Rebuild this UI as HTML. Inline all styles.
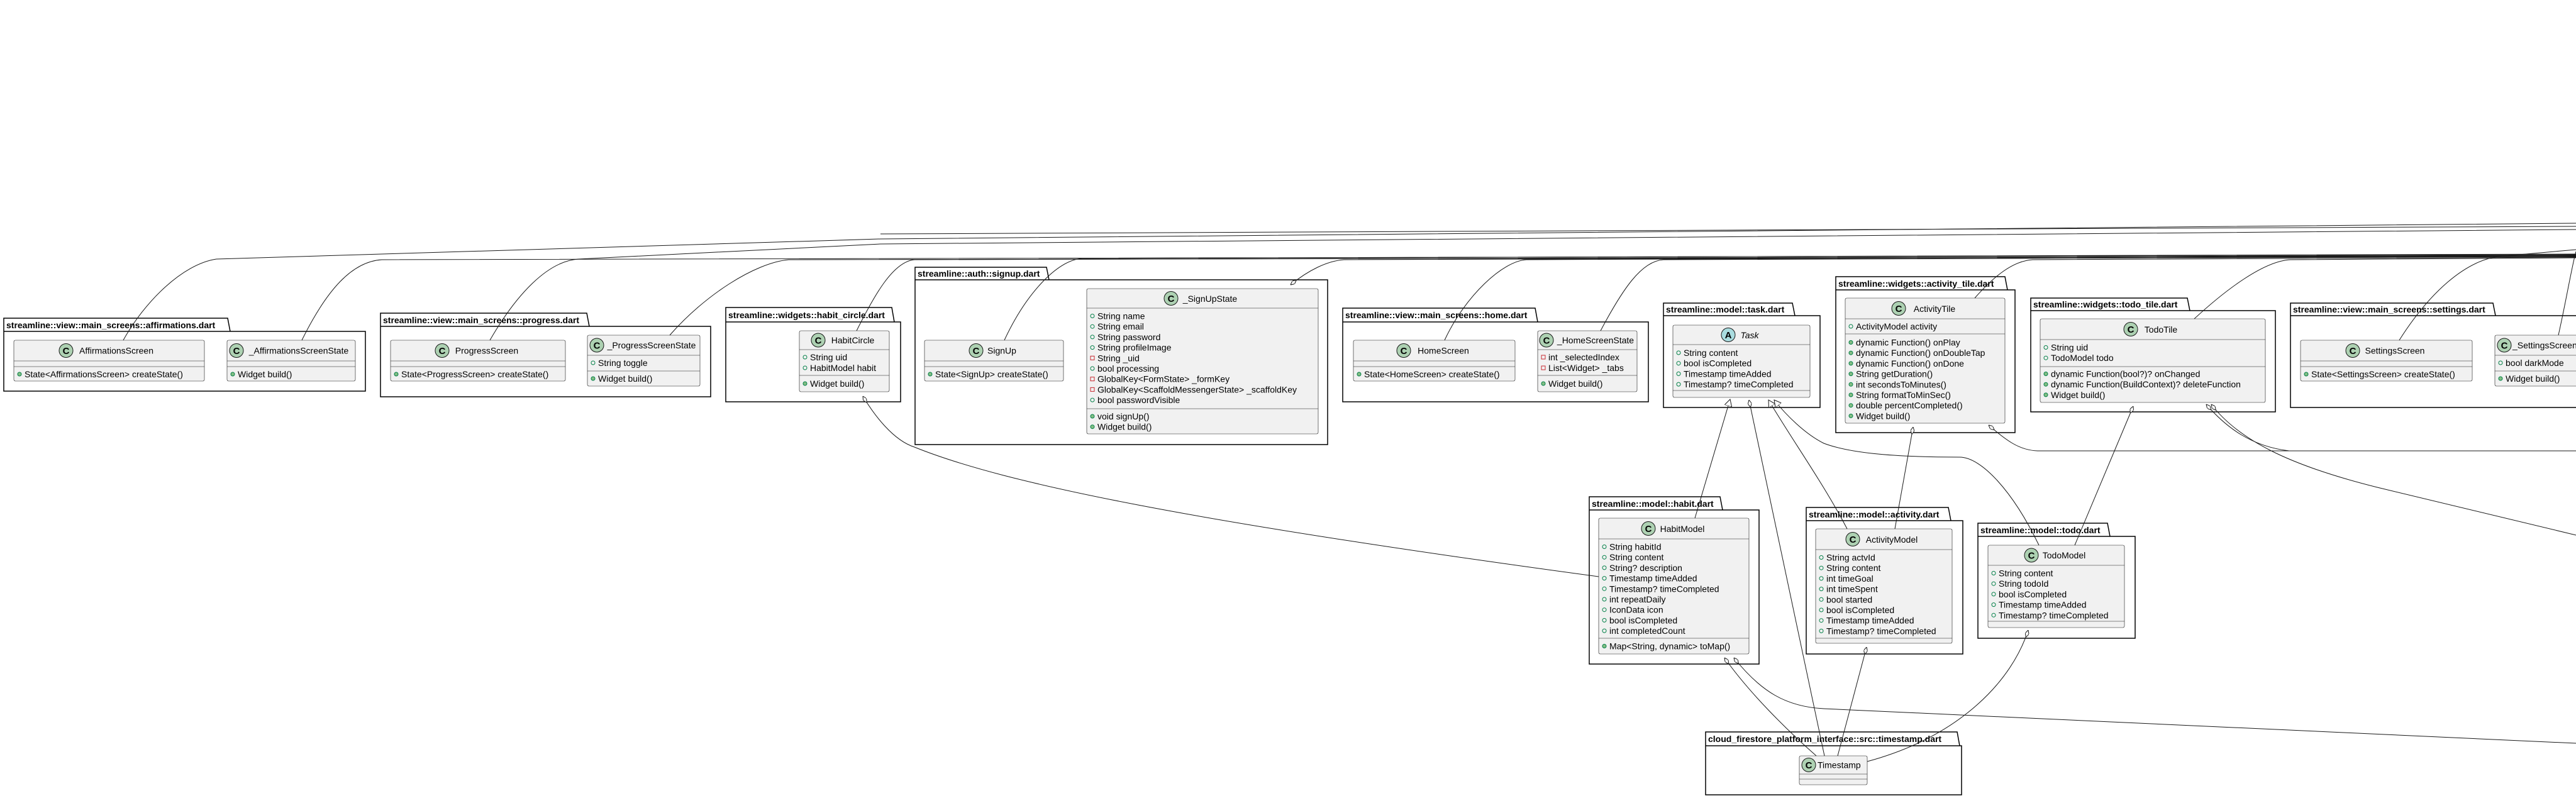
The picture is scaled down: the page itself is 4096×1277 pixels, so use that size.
<!DOCTYPE html>
<html><head><meta charset="utf-8"><style>
html,body{margin:0;padding:0;background:#fff;}
svg{display:block;}
text{font-family:"Liberation Sans",sans-serif;font-size:14px;fill:#000;}
.pk{font-weight:bold;font-size:14px;}
.cl{fill:#F1F1F1;stroke:#181818;stroke-width:0.6;}
.dv{stroke:#181818;stroke-width:0.6;}
.pb{fill:none;stroke:#000;stroke-width:1.5;}
.e{fill:none;stroke:#181818;stroke-width:1;}
.ic{fill:#ADD1B2;stroke:#181818;stroke-width:1;}
.ia{fill:#A9DCDF;stroke:#181818;stroke-width:1;}
.il{font-weight:bold;font-size:15px;}
.fo{fill:none;stroke:#038048;stroke-width:1;}
.mf{fill:#84BE84;stroke:#038048;stroke-width:1;}
.pr{fill:none;stroke:#C82930;stroke-width:1;}
</style></head><body>
<svg width="4096" height="1277" viewBox="0 0 4096 1277" xmlns="http://www.w3.org/2000/svg">
<defs>
<marker id="dm" viewBox="0 0 12 6" refX="0" refY="3" markerWidth="12" markerHeight="6" markerUnits="userSpaceOnUse" orient="auto"><polygon points="0,3 6,0 12,3 6,6" fill="#fff" stroke="#181818" stroke-width="1"/></marker>
<marker id="tr" viewBox="0 0 12 12" refX="11" refY="6" markerWidth="12" markerHeight="12" markerUnits="userSpaceOnUse" orient="auto"><polygon points="0,0 11,6 0,12" fill="#fff" stroke="#181818" stroke-width="1"/></marker>
</defs>

<!-- PACKAGES -->
<g>
<path class="pb" d="M6,527 L6,506 L362,506 L366,527 M6,527 H581 V622 H6 Z"/><text class="pk" x="10" y="522">streamline::view::main_screens::affirmations.dart</text>
<path class="pb" d="M605,519 L605,498 L933,498 L937,519 M605,519 H1130 V631 H605 Z"/><text class="pk" x="609" y="514">streamline::view::main_screens::progress.dart</text>
<path class="pb" d="M1154,512 L1154,489 L1418,489 L1422,512 M1154,512 H1432 V639 H1154 Z"/><text class="pk" x="1158" y="506">streamline::widgets::habit_circle.dart</text>
<path class="pb" d="M1455,445 L1455,425 L1664,425 L1668,445 M1455,445 H2111 V707 H1455 Z"/><text class="pk" x="1459" y="440">streamline::auth::signup.dart</text>
<path class="pb" d="M2135,512 L2135,490 L2441,490 L2445,512 M2135,512 H2621 V639 H2135 Z"/><text class="pk" x="2139" y="506">streamline::view::main_screens::home.dart</text>
<path class="pb" d="M2645,502 L2645,482 L2850,482 L2854,502 M2645,502 H2894 V648 H2645 Z"/><text class="pk" x="2649" y="497">streamline::model::task.dart</text>
<path class="pb" d="M2919,461 L2919,440 L3188,440 L3192,461 M2919,461 H3204 V688 H2919 Z"/><text class="pk" x="2923" y="456">streamline::widgets::activity_tile.dart</text>
<path class="pb" d="M3229,494 L3229,474 L3478,474 L3482,494 M3229,494 H3618 V655 H3229 Z"/><text class="pk" x="3233" y="489">streamline::widgets::todo_tile.dart</text>
<path class="pb" d="M3642,502 L3642,482 L3964,482 L3968,502 M3642,502 H4200 V648 H3642 Z"/><text class="pk" x="3646" y="497">streamline::view::main_screens::settings.dart</text>
<path class="pb" d="M2527,811 L2527,790 L2735,790 L2739,811 M2527,811 H2797 V1056 H2527 Z"/><text class="pk" x="2531" y="806">streamline::model::habit.dart</text>
<path class="pb" d="M2872,828 L2872,807 L3098,807 L3102,828 M2872,828 H3121 V1040 H2872 Z"/><text class="pk" x="2876" y="823">streamline::model::activity.dart</text>
<path class="pb" d="M3145,853 L3145,832 L3351,832 L3355,853 M3145,853 H3395 V1015 H3145 Z"/><text class="pk" x="3149" y="848">streamline::model::todo.dart</text>
<path class="pb" d="M2712,1186 L2712,1164 L3112,1164 L3116,1186 M2712,1186 H3119 V1264 H2712 Z"/><text class="pk" x="2716" y="1180">cloud_firestore_platform_interface::src::timestamp.dart</text>
</g>

<!-- CLASSES -->
<!-- AffirmationsScreen -->
<rect class="cl" x="22" y="541" width="303" height="65" rx="2.5"/>
<line class="dv" x1="22" y1="574" x2="325" y2="574"/><line class="dv" x1="22" y1="583" x2="325" y2="583"/>
<circle class="ic" cx="105" cy="557.5" r="11"/><text class="il" x="105" y="563" text-anchor="middle">C</text>
<text x="185" y="562.5" text-anchor="middle">AffirmationsScreen</text>
<circle class="mf" cx="31" cy="595" r="3"/><text x="39" y="600">State&lt;AffirmationsScreen&gt; createState()</text>

<!-- _AffirmationsScreenState -->
<rect class="cl" x="361" y="541" width="204" height="65" rx="2.5"/>
<line class="dv" x1="361" y1="574" x2="565" y2="574"/><line class="dv" x1="361" y1="583" x2="565" y2="583"/>
<circle class="ic" cx="376" cy="557.5" r="11"/><text class="il" x="376" y="563" text-anchor="middle">C</text>
<text x="475" y="562.5" text-anchor="middle">_AffirmationsScreenState</text>
<circle class="mf" cx="370" cy="595" r="3"/><text x="378" y="600">Widget build()</text>

<!-- ProgressScreen -->
<rect class="cl" x="621" y="541" width="278" height="65" rx="2.5"/>
<line class="dv" x1="621" y1="574" x2="899" y2="574"/><line class="dv" x1="621" y1="583" x2="899" y2="583"/>
<circle class="ic" cx="703" cy="557.5" r="11"/><text class="il" x="703" y="563" text-anchor="middle">C</text>
<text x="774" y="562.5" text-anchor="middle">ProgressScreen</text>
<circle class="mf" cx="630" cy="595" r="3"/><text x="638" y="600">State&lt;ProgressScreen&gt; createState()</text>

<!-- _ProgressScreenState -->
<rect class="cl" x="934" y="533" width="179" height="81" rx="2.5"/>
<line class="dv" x1="934" y1="565" x2="1113" y2="565"/><line class="dv" x1="934" y1="590" x2="1113" y2="590"/>
<circle class="ic" cx="949" cy="549" r="11"/><text class="il" x="949" y="554.5" text-anchor="middle">C</text>
<text x="1036" y="554" text-anchor="middle">_ProgressScreenState</text>
<circle class="fo" cx="943" cy="577" r="3"/><text x="951" y="582">String toggle</text>
<circle class="mf" cx="943" cy="602" r="3"/><text x="951" y="607">Widget build()</text>

<!-- HabitCircle -->
<rect class="cl" x="1271" y="526" width="143" height="97" rx="2.5"/>
<line class="dv" x1="1271" y1="556" x2="1414" y2="556"/><line class="dv" x1="1271" y1="597" x2="1414" y2="597"/>
<circle class="ic" cx="1301" cy="541" r="11"/><text class="il" x="1301" y="546.5" text-anchor="middle">C</text>
<text x="1356" y="546" text-anchor="middle">HabitCircle</text>
<circle class="fo" cx="1280" cy="568" r="3"/><text x="1288" y="573">String uid</text>
<circle class="fo" cx="1280" cy="585" r="3"/><text x="1288" y="590">HabitModel habit</text>
<circle class="mf" cx="1280" cy="610" r="3"/><text x="1288" y="615">Widget build()</text>

<!-- SignUp -->
<rect class="cl" x="1470" y="541" width="221" height="65" rx="2.5"/>
<line class="dv" x1="1470" y1="574" x2="1691" y2="574"/><line class="dv" x1="1470" y1="583" x2="1691" y2="583"/>
<circle class="ic" cx="1552" cy="557.5" r="11"/><text class="il" x="1552" y="563" text-anchor="middle">C</text>
<text x="1593" y="562.5" text-anchor="middle">SignUp</text>
<circle class="mf" cx="1479" cy="595" r="3"/><text x="1487" y="600">State&lt;SignUp&gt; createState()</text>

<!-- _SignUpState -->
<rect class="cl" x="1728" y="459" width="368" height="231" rx="2.5"/>
<line class="dv" x1="1728" y1="490" x2="2096" y2="490"/><line class="dv" x1="1728" y1="650" x2="2096" y2="650"/>
<circle class="ic" cx="1862" cy="474.5" r="11"/><text class="il" x="1862" y="480" text-anchor="middle">C</text>
<text x="1924" y="480" text-anchor="middle">_SignUpState</text>
<circle class="fo" cx="1737" cy="502.5" r="3"/><text x="1745" y="507.5">String name</text>
<circle class="fo" cx="1737" cy="519.2" r="3"/><text x="1745" y="524.2">String email</text>
<circle class="fo" cx="1737" cy="535.9" r="3"/><text x="1745" y="540.9">String password</text>
<circle class="fo" cx="1737" cy="552.6" r="3"/><text x="1745" y="557.6">String profileImage</text>
<rect class="pr" x="1734" y="566.3" width="6" height="6"/><text x="1745" y="574.3">String _uid</text>
<circle class="fo" cx="1737" cy="586" r="3"/><text x="1745" y="591">bool processing</text>
<rect class="pr" x="1734" y="599.7" width="6" height="6"/><text x="1745" y="607.7">GlobalKey&lt;FormState&gt; _formKey</text>
<rect class="pr" x="1734" y="616.4" width="6" height="6"/><text x="1745" y="624.4">GlobalKey&lt;ScaffoldMessengerState&gt; _scaffoldKey</text>
<circle class="fo" cx="1737" cy="636.1" r="3"/><text x="1745" y="641.1">bool passwordVisible</text>
<circle class="mf" cx="1737" cy="662" r="3"/><text x="1745" y="667">void signUp()</text>
<circle class="mf" cx="1737" cy="678.7" r="3"/><text x="1745" y="683.7">Widget build()</text>

<!-- HomeScreen -->
<rect class="cl" x="2152" y="541" width="257" height="65" rx="2.5"/>
<line class="dv" x1="2152" y1="574" x2="2409" y2="574"/><line class="dv" x1="2152" y1="583" x2="2409" y2="583"/>
<circle class="ic" cx="2232" cy="557.5" r="11"/><text class="il" x="2232" y="563" text-anchor="middle">C</text>
<text x="2295" y="562.5" text-anchor="middle">HomeScreen</text>
<circle class="mf" cx="2161" cy="595" r="3"/><text x="2169" y="600">State&lt;HomeScreen&gt; createState()</text>

<!-- _HomeScreenState -->
<rect class="cl" x="2445" y="526" width="158" height="97" rx="2.5"/>
<line class="dv" x1="2445" y1="556" x2="2603" y2="556"/><line class="dv" x1="2445" y1="597" x2="2603" y2="597"/>
<circle class="ic" cx="2459" cy="541" r="11"/><text class="il" x="2459" y="546.5" text-anchor="middle">C</text>
<text x="2537" y="546" text-anchor="middle">_HomeScreenState</text>
<rect class="pr" x="2451" y="565" width="6" height="6"/><text x="2462" y="573">int _selectedIndex</text>
<rect class="pr" x="2451" y="582" width="6" height="6"/><text x="2462" y="590">List&lt;Widget&gt; _tabs</text>
<circle class="mf" cx="2454" cy="610" r="3"/><text x="2462" y="615">Widget build()</text>

<!-- Task -->
<rect class="cl" x="2660" y="517" width="218" height="115" rx="2.5"/>
<line class="dv" x1="2660" y1="548" x2="2878" y2="548"/><line class="dv" x1="2660" y1="621" x2="2878" y2="621"/>
<circle class="ia" cx="2748" cy="532.5" r="11"/><text class="il" x="2748" y="538" text-anchor="middle">A</text>
<text x="2782" y="538" text-anchor="middle" font-style="italic">Task</text>
<circle class="fo" cx="2669" cy="561" r="3"/><text x="2677" y="566">String content</text>
<circle class="fo" cx="2669" cy="577.7" r="3"/><text x="2677" y="582.7">bool isCompleted</text>
<circle class="fo" cx="2669" cy="594.4" r="3"/><text x="2677" y="599.4">Timestamp timeAdded</text>
<circle class="fo" cx="2669" cy="611.1" r="3"/><text x="2677" y="616.1">Timestamp? timeCompleted</text>

<!-- HabitModel -->
<rect class="cl" x="2542" y="824" width="239" height="216" rx="2.5"/>
<line class="dv" x1="2542" y1="857" x2="2781" y2="857"/><line class="dv" x1="2542" y1="1015" x2="2781" y2="1015"/>
<circle class="ic" cx="2621" cy="840.5" r="11"/><text class="il" x="2621" y="846" text-anchor="middle">C</text>
<text x="2675" y="846" text-anchor="middle">HabitModel</text>
<circle class="fo" cx="2551" cy="869.5" r="3"/><text x="2559" y="874.5">String habitId</text>
<circle class="fo" cx="2551" cy="886.2" r="3"/><text x="2559" y="891.2">String content</text>
<circle class="fo" cx="2551" cy="902.9" r="3"/><text x="2559" y="907.9">String? description</text>
<circle class="fo" cx="2551" cy="919.6" r="3"/><text x="2559" y="924.6">Timestamp timeAdded</text>
<circle class="fo" cx="2551" cy="936.3" r="3"/><text x="2559" y="941.3">Timestamp? timeCompleted</text>
<circle class="fo" cx="2551" cy="953" r="3"/><text x="2559" y="958">int repeatDaily</text>
<circle class="fo" cx="2551" cy="969.7" r="3"/><text x="2559" y="974.7">IconData icon</text>
<circle class="fo" cx="2551" cy="986.4" r="3"/><text x="2559" y="991.4">bool isCompleted</text>
<circle class="fo" cx="2551" cy="1003.1" r="3"/><text x="2559" y="1008.1">int completedCount</text>
<circle class="mf" cx="2551" cy="1027.5" r="3"/><text x="2559" y="1032.5">Map&lt;String, dynamic&gt; toMap()</text>

<!-- ActivityTile -->
<rect class="cl" x="2934" y="474" width="254" height="199" rx="2.5"/>
<line class="dv" x1="2934" y1="507" x2="3188" y2="507"/><line class="dv" x1="2934" y1="531" x2="3188" y2="531"/>
<circle class="ic" cx="3019" cy="490.5" r="11"/><text class="il" x="3019" y="496" text-anchor="middle">C</text>
<text x="3076" y="496" text-anchor="middle">ActivityTile</text>
<circle class="fo" cx="2943" cy="519" r="3"/><text x="2951" y="524">ActivityModel activity</text>
<circle class="mf" cx="2943" cy="544.5" r="3"/><text x="2951" y="549.5">dynamic Function() onPlay</text>
<circle class="mf" cx="2943" cy="561.2" r="3"/><text x="2951" y="566.2">dynamic Function() onDoubleTap</text>
<circle class="mf" cx="2943" cy="577.9" r="3"/><text x="2951" y="582.9">dynamic Function() onDone</text>
<circle class="mf" cx="2943" cy="594.6" r="3"/><text x="2951" y="599.6">String getDuration()</text>
<circle class="mf" cx="2943" cy="611.3" r="3"/><text x="2951" y="616.3">int secondsToMinutes()</text>
<circle class="mf" cx="2943" cy="628" r="3"/><text x="2951" y="633">String formatToMinSec()</text>
<circle class="mf" cx="2943" cy="644.7" r="3"/><text x="2951" y="649.7">double percentCompleted()</text>
<circle class="mf" cx="2943" cy="661.4" r="3"/><text x="2951" y="666.4">Widget build()</text>

<!-- TodoTile -->
<rect class="cl" x="3244" y="507" width="358" height="133" rx="2.5"/>
<line class="dv" x1="3244" y1="540" x2="3602" y2="540"/><line class="dv" x1="3244" y1="583" x2="3602" y2="583"/>
<circle class="ic" cx="3388" cy="523.5" r="11"/><text class="il" x="3388" y="529" text-anchor="middle">C</text>
<text x="3436" y="529" text-anchor="middle">TodoTile</text>
<circle class="fo" cx="3253" cy="552.5" r="3"/><text x="3261" y="557.5">String uid</text>
<circle class="fo" cx="3253" cy="569.2" r="3"/><text x="3261" y="574.2">TodoModel todo</text>
<circle class="mf" cx="3253" cy="594.5" r="3"/><text x="3261" y="599.5">dynamic Function(bool?)? onChanged</text>
<circle class="mf" cx="3253" cy="611.2" r="3"/><text x="3261" y="616.2">dynamic Function(BuildContext)? deleteFunction</text>
<circle class="mf" cx="3253" cy="627.9" r="3"/><text x="3261" y="632.9">Widget build()</text>

<!-- SettingsScreen -->
<rect class="cl" x="3658" y="541" width="273" height="65" rx="2.5"/>
<line class="dv" x1="3658" y1="574" x2="3931" y2="574"/><line class="dv" x1="3658" y1="583" x2="3931" y2="583"/>
<circle class="ic" cx="3741" cy="557.5" r="11"/><text class="il" x="3741" y="563" text-anchor="middle">C</text>
<text x="3808" y="562.5" text-anchor="middle">SettingsScreen</text>
<circle class="mf" cx="3667" cy="595" r="3"/><text x="3675" y="600">State&lt;SettingsScreen&gt; createState()</text>

<!-- _SettingsScreenState -->
<rect class="cl" x="3967" y="533" width="200" height="81" rx="2.5"/>
<line class="dv" x1="3967" y1="565" x2="4167" y2="565"/><line class="dv" x1="3967" y1="590" x2="4167" y2="590"/>
<circle class="ic" cx="3982" cy="549" r="11"/><text class="il" x="3982" y="554.5" text-anchor="middle">C</text>
<text x="3995" y="554">_SettingsScreenState</text>
<circle class="fo" cx="3976" cy="577" r="3"/><text x="3984" y="582">bool darkMode</text>
<circle class="mf" cx="3976" cy="602" r="3"/><text x="3984" y="607">Widget build()</text>

<!-- ActivityModel -->
<rect class="cl" x="2887" y="841" width="217" height="182" rx="2.5"/>
<line class="dv" x1="2887" y1="874" x2="3104" y2="874"/><line class="dv" x1="2887" y1="1015" x2="3104" y2="1015"/>
<circle class="ic" cx="2946" cy="857.5" r="11"/><text class="il" x="2946" y="863" text-anchor="middle">C</text>
<text x="3008" y="863" text-anchor="middle">ActivityModel</text>
<circle class="fo" cx="2896" cy="886.5" r="3"/><text x="2904" y="891.5">String actvId</text>
<circle class="fo" cx="2896" cy="903.2" r="3"/><text x="2904" y="908.2">String content</text>
<circle class="fo" cx="2896" cy="919.9" r="3"/><text x="2904" y="924.9">int timeGoal</text>
<circle class="fo" cx="2896" cy="936.6" r="3"/><text x="2904" y="941.6">int timeSpent</text>
<circle class="fo" cx="2896" cy="953.3" r="3"/><text x="2904" y="958.3">bool started</text>
<circle class="fo" cx="2896" cy="970" r="3"/><text x="2904" y="975">bool isCompleted</text>
<circle class="fo" cx="2896" cy="986.7" r="3"/><text x="2904" y="991.7">Timestamp timeAdded</text>
<circle class="fo" cx="2896" cy="1003.4" r="3"/><text x="2904" y="1008.4">Timestamp? timeCompleted</text>

<!-- TodoModel -->
<rect class="cl" x="3161" y="867" width="217" height="131" rx="2.5"/>
<line class="dv" x1="3161" y1="899" x2="3378" y2="899"/><line class="dv" x1="3161" y1="988" x2="3378" y2="988"/>
<circle class="ic" cx="3230" cy="883" r="11"/><text class="il" x="3230" y="888.5" text-anchor="middle">C</text>
<text x="3282" y="888" text-anchor="middle">TodoModel</text>
<circle class="fo" cx="3170" cy="911.5" r="3"/><text x="3178" y="916.5">String content</text>
<circle class="fo" cx="3170" cy="928.2" r="3"/><text x="3178" y="933.2">String todoId</text>
<circle class="fo" cx="3170" cy="944.9" r="3"/><text x="3178" y="949.9">bool isCompleted</text>
<circle class="fo" cx="3170" cy="961.6" r="3"/><text x="3178" y="966.6">Timestamp timeAdded</text>
<circle class="fo" cx="3170" cy="978.3" r="3"/><text x="3178" y="983.3">Timestamp? timeCompleted</text>

<!-- Timestamp -->
<rect class="cl" x="2861" y="1202" width="108" height="46" rx="2.5"/>
<line class="dv" x1="2861" y1="1231" x2="2969" y2="1231"/><line class="dv" x1="2861" y1="1239" x2="2969" y2="1239"/>
<circle class="ic" cx="2876" cy="1216.5" r="11"/><text class="il" x="2876" y="1222" text-anchor="middle">C</text>
<text x="2890" y="1221.5">Timestamp</text>

<!-- EDGES: top bundle -->
<g class="e">
<path d="M196,541 C230,480 290,420 344,412 L1400,380 L4096,355"/>
<path d="M480,541 C520,460 560,416 607,413 L4096,405"/>
<path d="M779,541 C820,470 870,415 920,412 L1400,388 L4096,365"/>
<path d="M1065,533 C1120,470 1200,418 1254,413 L4096,408"/>
<path d="M1362,526 C1390,470 1420,416 1454,413 L4096,406"/>
<path d="M1597,541 C1630,470 1680,413 1721,411 L4096,404"/>
<path d="M2052,453 C2080,430 2110,415 2137,413 L4096,407" marker-start="url(#dm)"/>
<path d="M2297,541 C2330,470 2390,415 2427,413 L4096,406"/>
<path d="M2545,526 C2580,460 2610,415 2645,413 L4096,408"/>
<path d="M3140,474 C3170,440 3200,415 3232,413 L4096,409"/>
<path d="M3489,507 C3540,460 3600,415 3642,413 L4096,410"/>
<path d="M3815,541 C3860,470 3920,410 3982,407 L4096,397"/>
<path d="M4068,533 C4080,480 4090,420 4096,400"/>
<path d="M1400,372 L4096,360"/>
</g>

<!-- EDGES: lower -->
<g class="e">
<path d="M1372,630 C1390,660 1420,700 1454,711 C1600,770 1900,830 2542,917" marker-start="url(#dm)"/>
<path d="M2695,824 L2751,635" marker-end="url(#tr)"/>
<path d="M2937,841 C2900,770 2850,700 2812,636" marker-end="url(#tr)"/>
<path d="M3242,867 C3200,780 3150,727 3116,727 C3000,727 2937,719 2900,705 C2870,690 2840,660 2821,636" marker-end="url(#tr)"/>
<path d="M2781,636 L2901,1202" marker-start="url(#dm)"/>
<path d="M3042,679 L3013,841" marker-start="url(#dm)"/>
<path d="M3162,676 C3190,700 3210,716 3240,717 L4096,717" marker-start="url(#dm)"/>
<path d="M3392,646 L3299,867" marker-start="url(#dm)"/>
<path d="M3508,643 C3540,680 3580,710 3640,717" marker-start="url(#dm)"/>
<path d="M3516,643 C3560,700 3640,740 3780,775 L4096,851" marker-start="url(#dm)"/>
<path d="M2742,1046 C2780,1100 2840,1160 2888,1202" marker-start="url(#dm)"/>
<path d="M2757,1046 C2800,1100 2840,1124 2900,1127 L4096,1182" marker-start="url(#dm)"/>
<path d="M2968,1029 L2922,1202" marker-start="url(#dm)"/>
<path d="M3225,1002 C3200,1080 3120,1170 2969,1211" marker-start="url(#dm)"/>
</g>
</svg>
</body></html>
